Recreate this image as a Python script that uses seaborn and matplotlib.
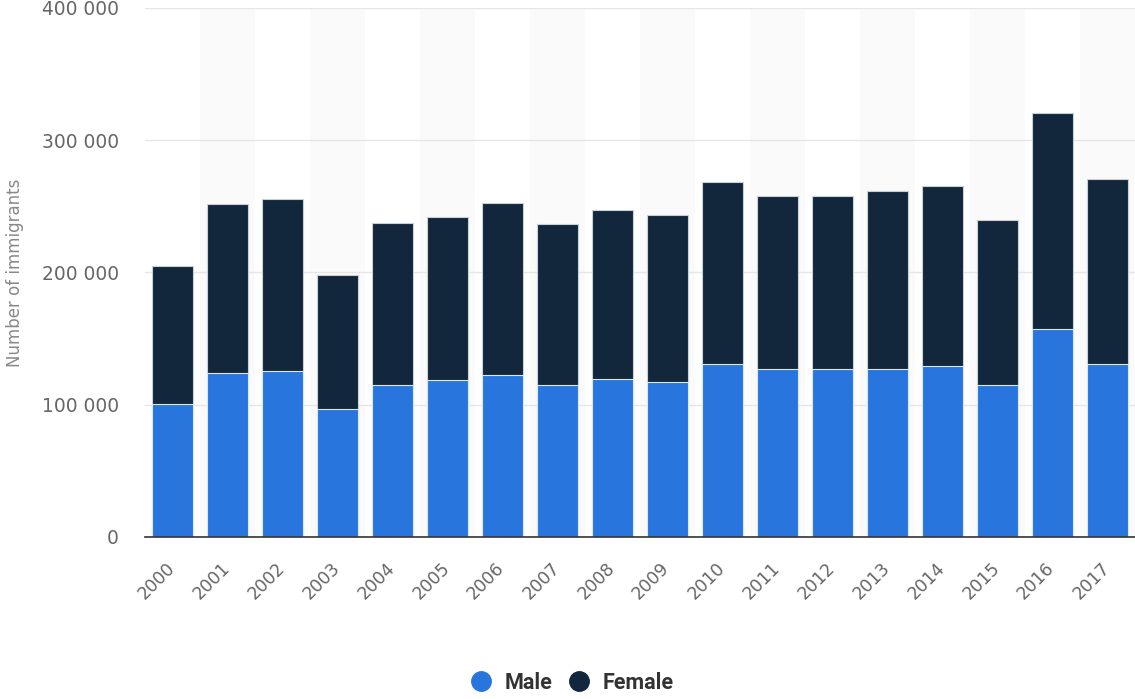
import numpy as np
import pandas as pd
import matplotlib
matplotlib.use("Agg")
import matplotlib.pyplot as plt
import matplotlib.transforms as mtransforms
from matplotlib.lines import Line2D
from matplotlib.ticker import FuncFormatter
import seaborn as sns

# Data
years = ['2000', '2001', '2002', '2003', '2004', '2005', '2006', '2007', '2008',
         '2009', '2010', '2011', '2012', '2013', '2014', '2015', '2016', '2017']
male = [100500, 124200, 125500, 96500, 114800, 118400, 122400, 114700, 119700,
        117400, 130500, 126700, 126700, 126700, 129300, 114900, 157000, 130500]
female = [104300, 127300, 129700, 101300, 122300, 123500, 130100, 122100, 127700,
          126000, 137600, 131000, 131000, 135100, 136300, 124400, 163500, 140100]

df = pd.DataFrame({'Year': years, 'Male': male, 'Female': female})
df['Total'] = df['Male'] + df['Female']

male_color = '#2876dd'
female_color = '#13273c'
text_color = '#666666'

sns.set_theme(style='white')
plt.rcParams['font.family'] = ['DejaVu Sans']

fig = plt.figure(figsize=(11.35, 6.99), dpi=100)
ax = fig.add_axes([0.1278, 0.2318, 0.8722, 0.7568])

# alternating background bands
for i in range(len(years)):
    if i % 2 == 1:
        ax.axvspan(i - 0.5, i + 0.5, color='#fafafa', zorder=0, lw=0)

# stacked bars: total first (female on top), male overlaid
sns.barplot(data=df, x='Year', y='Total', color=female_color, width=0.73,
            saturation=1, edgecolor='#c8d0d8', linewidth=0.8, ax=ax, zorder=3)
sns.barplot(data=df, x='Year', y='Male', color=male_color, width=0.73,
            saturation=1, edgecolor='#dbe8f8', linewidth=0.8, ax=ax, zorder=4)

ax.set_xlim(-0.5, len(years) - 0.5)
ax.set_ylim(0, 400000)
ax.set_yticks([0, 100000, 200000, 300000, 400000])
ax.yaxis.set_major_formatter(FuncFormatter(lambda v, p: f'{int(v):,}'.replace(',', ' ')))
ax.yaxis.grid(True, color='#e6e6e6', linewidth=1, zorder=1)
ax.set_axisbelow(True)

for s in ['top', 'right', 'left']:
    ax.spines[s].set_visible(False)
ax.spines['bottom'].set_color('#333333')
ax.spines['bottom'].set_linewidth(1.2)
ax.spines['bottom'].set_zorder(5)

ax.tick_params(axis='y', length=0, pad=19, labelsize=13.4, labelcolor=text_color)
ax.tick_params(axis='x', length=0, pad=16, labelsize=12.5, labelcolor=text_color)
shift = mtransforms.ScaledTranslation(-7 / 100, 0, fig.dpi_scale_trans)
for lbl in ax.get_xticklabels():
    lbl.set_rotation(45)
    lbl.set_ha('right')
    lbl.set_va('top')
    lbl.set_rotation_mode('anchor')
    lbl.set_transform(lbl.get_transform() + shift)

ax.set_xlabel('')
ax.set_ylabel('Number of immigrants', fontsize=12, color='#888888')
ax.yaxis.set_label_coords(-0.122, 0.5)

handles = [Line2D([0], [0], marker='o', linestyle='', markersize=14,
                  markerfacecolor=c, markeredgecolor=c) for c in (male_color, female_color)]
fig.legend(handles, ['Male', 'Female'], loc='center', bbox_to_anchor=(0.501, 0.023),
           ncol=2, frameon=False, handletextpad=0.3, columnspacing=0.45,
           handlelength=1.6, prop={'family': 'Roboto', 'weight': 'bold', 'size': 15.5})
for t in fig.legends[0].get_texts():
    t.set_color('#333333')

fig.savefig('out.png', dpi=100)
